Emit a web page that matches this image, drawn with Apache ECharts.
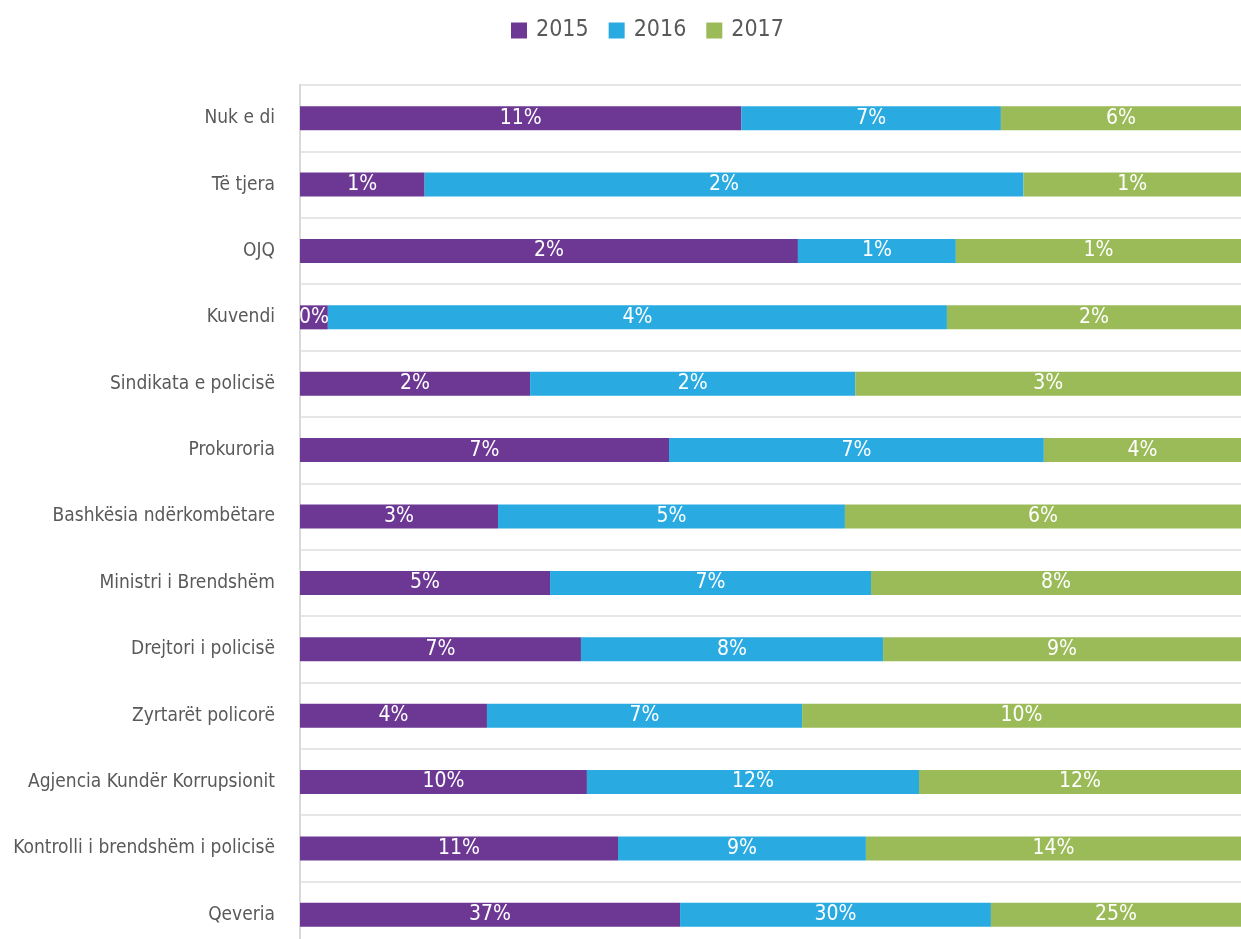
<!DOCTYPE html>
<html>
<head>
<meta charset="utf-8">
<script src="https://cdn.jsdelivr.net/npm/echarts@6/dist/echarts.min.js"></script>
<style>
html,body{margin:0;padding:0;background:#fff;}
#chart{width:1241px;height:939px;}
</style>
</head>
<body>
<div id="chart"></div>
<script>
const categories = ["Nuk e di","Të tjera","OJQ","Kuvendi","Sindikata e policisë","Prokuroria","Bashkësia ndërkombëtare","Ministri i Brendshëm","Drejtori i policisë","Zyrtarët policorë","Agjencia Kundër Korrupsionit","Kontrolli i brendshëm i policisë","Qeveria"];
const seriesNames = ["2015","2016","2017"];
const v2015 = [11.4, 0.51, 2.27, 0.18, 1.67, 7.0, 2.9, 5.4, 7.3, 4.2, 10.3, 11.48, 37.25];
const v2016 = [6.7, 2.45, 0.72, 4.0, 2.36, 7.11, 5.08, 6.93, 7.85, 7.08, 11.92, 8.95, 30.47];
const v2017 = [6.2, 0.89, 1.30, 1.9, 2.8, 3.74, 5.8, 7.99, 9.3, 9.86, 11.56, 13.54, 24.51];
const colors = ["#6C3893","#29ABE2","#9BBB59"];

const raw = [v2015, v2016, v2017];
const totals = categories.map((_, i) => v2015[i] + v2016[i] + v2017[i]);
const FONT = "'DejaVu Sans Condensed','Liberation Sans Narrow',sans-serif";

const chart = echarts.init(document.getElementById('chart'));
chart.setOption({
  animation: false,
  textStyle: { fontFamily: FONT },
  legend: {
    top: 14, left: 506,
    itemWidth: 16, itemHeight: 16, itemGap: 20,
    icon: 'rect',
    textStyle: { fontSize: 23, color: '#595959', fontFamily: FONT, padding: [0, 0, 0, 4] },
    data: seriesNames
  },
  grid: { left: 300, right: 0, top: 85, height: 863, containLabel: false, outerBoundsMode: 'none' },
  xAxis: { type: 'value', min: 0, max: 100, show: false },
  yAxis: {
    type: 'category', inverse: true, data: categories,
    axisLine: { show: true, lineStyle: { color: '#d9d9d9', width: 2 } },
    axisTick: { show: false },
    splitLine: { show: true, lineStyle: { color: '#e6e6e6', width: 2 } },
    axisLabel: { fontSize: 19, color: '#595959', margin: 25, fontFamily: FONT }
  },
  series: raw.map((arr, s) => ({
    name: seriesNames[s], type: 'bar', stack: 'all', barWidth: 24,
    itemStyle: { color: colors[s] },
    data: arr.map((v, i) => v / totals[i] * 100),
    label: {
      show: true, position: 'inside', color: '#fff', fontSize: 21, fontFamily: FONT,
      formatter: p => Math.round(arr[p.dataIndex]) + '%'
    }
  }))
});
</script>
</body>
</html>
